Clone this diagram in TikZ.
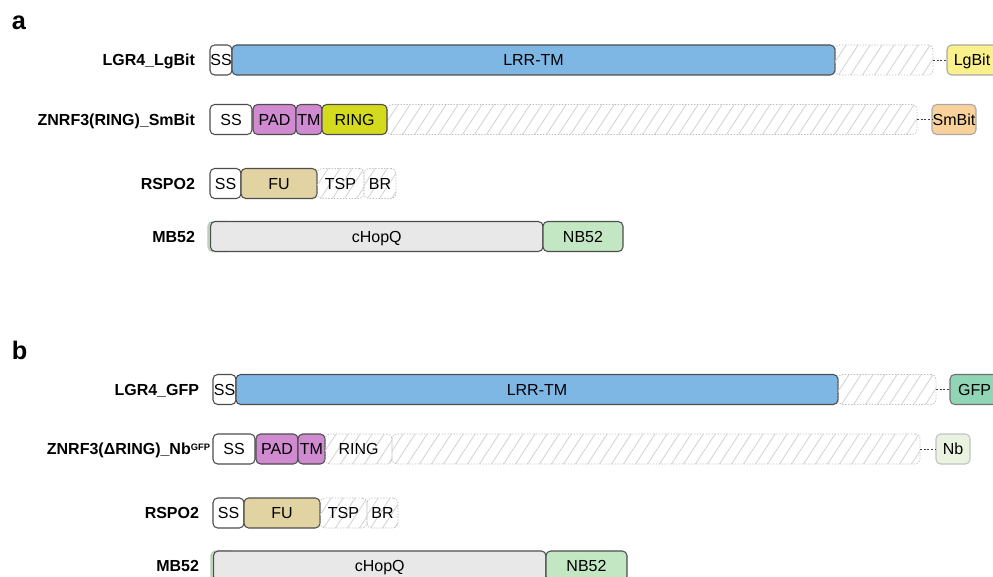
\documentclass[tikz,border=0pt]{standalone}
\usepackage{fontspec}
\setmainfont{Liberation Sans}
\definecolor{domline}{HTML}{4D4D4D}
\definecolor{tagline}{HTML}{A8A8A8}
\definecolor{hatchedge}{HTML}{BDBDBD}
\definecolor{hatchline}{HTML}{D6D6D6}
\definecolor{lrrblue}{HTML}{7EB6E4}
\definecolor{padpink}{HTML}{D08AD0}
\definecolor{ringyellow}{HTML}{D4DA1E}
\definecolor{lgbityellow}{HTML}{FAF08C}
\definecolor{smbitorange}{HTML}{F9D29B}
\definecolor{futan}{HTML}{E2D4A2}
\definecolor{hopgray}{HTML}{E8E8E8}
\definecolor{nbgreen}{HTML}{C3E6C3}
\definecolor{gfpgreen}{HTML}{90D5B5}
\definecolor{nbpale}{HTML}{EAF3E0}
% one domain segment: name, left x, right x, centre y, style, text
\newcommand\domseg[6]{\node[#5, minimum width={(#3-#2)*0.75pt}] (#1) at ({(#2+#3)/2},#4) {#6};}
\begin{document}
\begin{tikzpicture}[x=0.75pt,y=-0.75pt,
  every node/.style={inner sep=0pt, outer sep=0pt, font=\fontsize{12}{14}\selectfont,
    text height=8.6pt, text depth=0pt},
  dombox/.style={draw=domline, line width=0.8pt, rounded corners=3.5pt, minimum height=22.5pt},
  tagbox/.style={draw=tagline, line width=0.8pt, rounded corners=3.5pt, minimum height=22.5pt},
  hatchbox/.style={draw=hatchedge, dash pattern=on 1pt off 1.2pt, line width=0.6pt,
    rounded corners=3.5pt, minimum height=22.5pt,
    path picture={
      \foreach \k in {0,...,50}{
        \draw[hatchline, line width=0.7pt, solid]
          ([xshift=\k*9pt-16pt, yshift=-1pt]path picture bounding box.south west) -- ++(16pt,24.5pt);
      }}},
  rowlabel/.style={anchor=east, font=\bfseries\fontsize{12}{14}\selectfont},
  panel/.style={anchor=base west, font=\bfseries\fontsize{19}{22}\selectfont,
    text height=13pt, text depth=0pt},
  link/.style={draw=black!75, dash pattern=on 1.4pt off 1.4pt, line width=0.7pt}
]
\useasboundingbox (0,0) rectangle (993,577);

% ---------------- panel a ----------------
\node[panel] (pa) at (12,30) {a};

% LGR4_LgBit
\node[rowlabel] (la1) at (195,60) {LGR4\_LgBit};
\domseg{a1ss}{210}{232}{60}{dombox,fill=white}{SS}
\domseg{a1lrr}{232}{835}{60}{dombox,fill=lrrblue}{LRR-TM}
\domseg{a1hatch}{835}{933}{60}{hatchbox}{}
\domseg{a1tag}{947}{997}{60}{tagbox,fill=lgbityellow}{LgBit}
\draw[link] (a1hatch.east) -- (a1tag.west);

% ZNRF3(RING)_SmBit
\node[rowlabel] (la2) at (195,119.5) {ZNRF3(RING)\_SmBit};
\domseg{a2hatch}{387}{917}{119.5}{hatchbox}{}
\domseg{a2ss}{210}{252}{119.5}{dombox,fill=white}{SS}
\domseg{a2pad}{253}{296}{119.5}{dombox,fill=padpink}{PAD}
\domseg{a2tm}{296}{322}{119.5}{dombox,fill=padpink}{TM}
\domseg{a2ring}{322}{387}{119.5}{dombox,fill=ringyellow}{RING}
\domseg{a2tag}{932}{976}{119.5}{tagbox,fill=smbitorange}{SmBit}
\draw[link] (a2hatch.east) -- (a2tag.west);

% RSPO2
\node[rowlabel] (la3) at (195,183.5) {RSPO2};
\domseg{a3ss}{210}{241}{183.5}{dombox,fill=white}{SS}
\domseg{a3fu}{241}{317}{183.5}{dombox,fill=futan}{FU}
\domseg{a3tsp}{317}{364}{183.5}{hatchbox}{TSP}
\domseg{a3br}{364}{396}{183.5}{hatchbox}{BR}

% MB52
\node[rowlabel] (la4) at (195,236.5) {MB52};
\domseg{a4edge}{208}{232}{236.5}{dombox,draw=nbgreen!70!black!60,fill=nbgreen}{}
\domseg{a4hop}{210.5}{543}{236.5}{dombox,fill=hopgray}{cHopQ}
\domseg{a4nb}{543}{623}{236.5}{dombox,fill=nbgreen}{NB52}

% ---------------- panel b ----------------
\node[panel] (pb) at (12,360) {b};

% LGR4_GFP
\node[rowlabel] (lb1) at (199,389.5) {LGR4\_GFP};
\domseg{b1ss}{213}{236}{389.5}{dombox,fill=white}{SS}
\domseg{b1lrr}{236}{838}{389.5}{dombox,fill=lrrblue}{LRR-TM}
\domseg{b1hatch}{838}{936}{389.5}{hatchbox}{}
\domseg{b1tag}{950}{999}{389.5}{dombox,draw=domline!80,fill=gfpgreen}{GFP}
\draw[link] (b1hatch.east) -- (b1tag.west);

% ZNRF3(dRING)_Nb-GFP
\node[rowlabel] (lb2) at (210,449) {ZNRF3(ΔRING)\_Nb\raisebox{3.4pt}{\fontsize{7}{8}\selectfont GFP}};
\domseg{b2hatch}{392}{920}{449}{hatchbox}{}
\domseg{b2ss}{213}{255}{449}{dombox,fill=white}{SS}
\domseg{b2pad}{256}{298}{449}{dombox,fill=padpink}{PAD}
\domseg{b2tm}{298}{325}{449}{dombox,fill=padpink}{TM}
\domseg{b2ring}{325}{392}{449}{hatchbox}{RING}
\domseg{b2tag}{936}{970}{449}{tagbox,draw=tagline!70,fill=nbpale}{Nb}
\draw[link] (b2hatch.east) -- (b2tag.west);

% RSPO2
\node[rowlabel] (lb3) at (199,513) {RSPO2};
\domseg{b3ss}{213}{244}{513}{dombox,fill=white}{SS}
\domseg{b3fu}{244}{320}{513}{dombox,fill=futan}{FU}
\domseg{b3tsp}{320}{367}{513}{hatchbox}{TSP}
\domseg{b3br}{367}{398}{513}{hatchbox}{BR}

% MB52
\node[rowlabel] (lb4) at (199,566) {MB52};
\domseg{b4edge}{211}{235}{566}{dombox,draw=nbgreen!70!black!60,fill=nbgreen}{}
\domseg{b4hop}{213.5}{546}{566}{dombox,fill=hopgray}{cHopQ}
\domseg{b4nb}{546}{627}{566}{dombox,fill=nbgreen}{NB52}
\end{tikzpicture}
\end{document}
